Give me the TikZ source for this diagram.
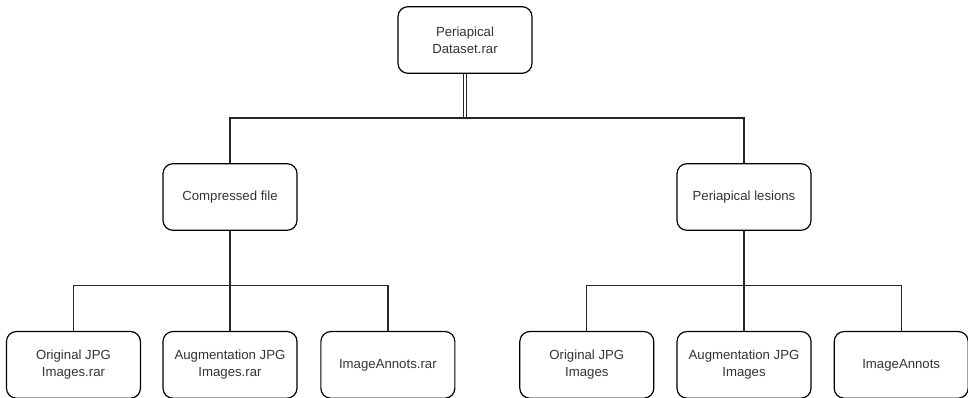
\documentclass[tikz,border=0pt]{standalone}
\usepackage{fontspec}
\setmainfont{Liberation Sans}
\usepackage{tikz}
\usetikzlibrary{calc}
\usetikzlibrary{positioning}
\tikzstyle{filenode} = [draw, rectangle, rounded corners=7.5pt, minimum width=100.5pt, minimum height=50pt, align=center, text=black!80, font=\fontsize{9.9}{12.5}\selectfont]
\tikzstyle{link} = [line width=0.95pt, black!85]

\begin{document}
\begin{tikzpicture}[x=0.75pt, y=-0.75pt, every path/.style={line width=0.9pt}]
  \useasboundingbox (0,0) rectangle (968,398);

  \node[filenode] (root) at (465,40) {Periapical\\Dataset.rar};
  \node[filenode] (comp) at (230,197) {Compressed file};
  \node[filenode] (les) at (744,197) {Periapical lesions};

  \node[filenode, below=75pt of comp] (co2) {Augmentation JPG\\Images.rar};
  \node[filenode, left=16pt of co2] (co1) {Original JPG\\Images.rar};
  \node[filenode, right=17pt of co2] (co3) {ImageAnnots.rar};

  \node[filenode, below=75pt of les] (lo2) {Augmentation JPG\\Images};
  \node[filenode, left=16.5pt of lo2] (lo1) {Original JPG\\Images};
  \node[filenode, right=16.5pt of lo2] (lo3) {ImageAnnots};

  \coordinate (top) at (465,118);
  \coordinate (cb) at ($(comp.south)+(0,-41pt)$);
  \coordinate (lb) at ($(les.south)+(0,-41pt)$);

  \draw[link, double, double distance=1.4pt] (root.south) -- (top);
  \draw[link] (comp.north) |- (top) -| (les.north);

  \draw[link] (comp.south) -- (cb) -- (co2.north);
  \draw[link] (co1.north) |- (cb) -| (co3.north);

  \draw[link] (les.south) -- (lb) -- (lo2.north);
  \draw[link] (lo1.north) |- (lb) -| (lo3.north);
\end{tikzpicture}
\end{document}
